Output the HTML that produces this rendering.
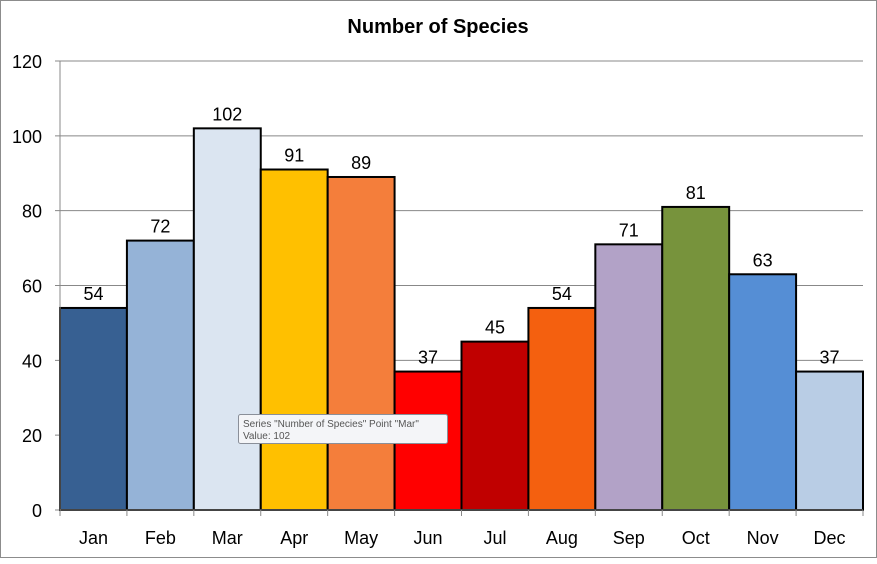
<!DOCTYPE html>
<html><head><meta charset="utf-8"><style>
body{margin:0;background:#fff;width:877px;height:559px;overflow:hidden}
svg text{font-family:"Liberation Sans",sans-serif}
</style></head><body>
<svg id="chart" width="877" height="559" xmlns="http://www.w3.org/2000/svg">
<rect x="0.5" y="0.5" width="876" height="557" fill="#fff" stroke="#8c8c8c"/>
<text x="438" y="33" text-anchor="middle" font-size="20" font-weight="bold" fill="#000">Number of Species</text>
<g id="grid"></g><g id="bars"></g><g id="labels"></g><g id="axes"></g>
<g>
<rect x="238.5" y="414.5" width="209" height="29" rx="2" fill="#f4f5f8" stroke="#8a8f99"/>
<text x="243" y="427" font-size="10" fill="#555">Series "Number of Species" Point "Mar"</text>
<text x="243" y="439" font-size="10" fill="#555">Value: 102</text>
</g>
</svg>
<script>
const categories=["Jan","Feb","Mar","Apr","May","Jun","Jul","Aug","Sep","Oct","Nov","Dec"];
const values=[54,72,102,91,89,37,45,54,71,81,63,37];
const colors=["#376092","#95b3d7","#dbe5f1","#ffc000","#f47e3b","#ff0000","#c00000","#f4600f","#b2a2c7","#77933c","#558ed5","#b9cde5"];
const yTicks=[0,20,40,60,80,100,120];
const NS="http://www.w3.org/2000/svg";
const L=60,R=863,T=61,B=510,yMax=120;
const y=v=>B-(v/yMax)*(B-T);
const bw=(R-L)/categories.length;
const x=i=>L+i*bw;
function mk(tag,attrs,parent,txt){const e=document.createElementNS(NS,tag);for(const k in attrs)e.setAttribute(k,attrs[k]);if(txt!==undefined)e.textContent=txt;document.getElementById(parent).appendChild(e);return e;}
yTicks.forEach(t=>{
 const g=mk('line',{x1:L-5,x2:R,y1:y(t),y2:y(t),stroke:'#888','stroke-width':1},'grid');
 
 
 const tl=mk('text',{x:42,y:y(t)+7,'text-anchor':'end','font-size':18,fill:'#000'},'axes',t);
 
 
});
categories.forEach((c,i)=>{
 const r=mk('rect',{x:x(i),y:y(values[i]),width:bw,height:B-y(values[i]),fill:colors[i],stroke:'#000','stroke-width':2},'bars');
 
 
 const v=mk('text',{x:x(i)+bw/2,y:y(values[i])-8,'text-anchor':'middle','font-size':18,fill:'#000'},'labels',values[i]);
 
 
 const cl=mk('text',{x:x(i)+bw/2,y:544,'text-anchor':'middle','font-size':18,fill:'#000'},'axes',c);
 
 
});
for(let i=0;i<=categories.length;i++){
 const tk=mk('line',{x1:x(i),x2:x(i),y1:B,y2:B+6,stroke:'#888'},'axes');
 
 
}
const ya=mk('line',{x1:L,x2:L,y1:T,y2:B,stroke:'#888'},'axes');


const xa=mk('line',{x1:L,x2:R,y1:B,y2:B,stroke:'#888'},'axes');


</script>
</body></html>
